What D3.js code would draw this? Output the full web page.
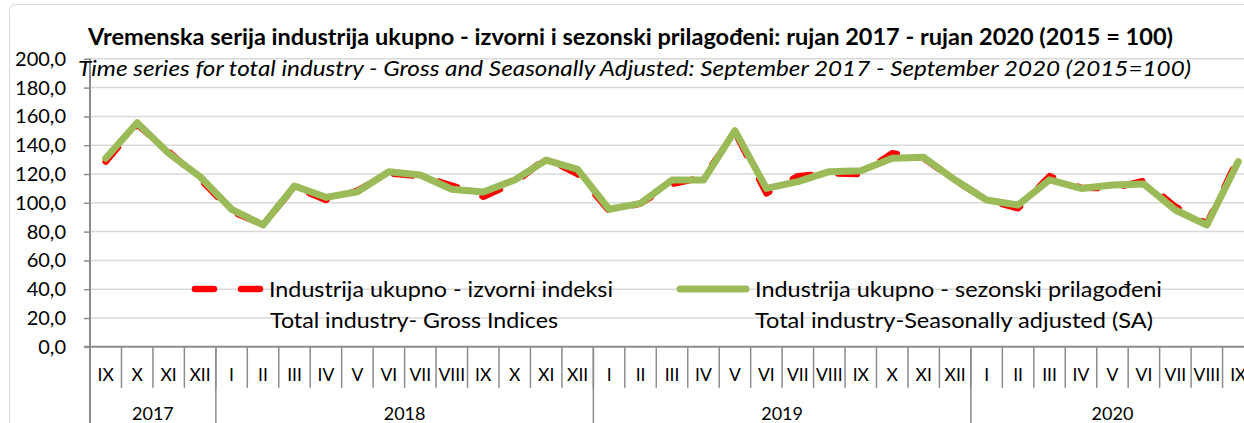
<!DOCTYPE html>
<html>
<head>
<meta charset="utf-8">
<script src="https://cdn.jsdelivr.net/npm/d3@7"></script>
<style>
  body { margin: 0; background: #fff; }
  svg { display: block; font-family: Lato, "Open Sans", sans-serif; }
</style>
</head>
<body>
<svg width="1244" height="423"></svg>
<script>
// months IX 2017 .. IX 2020
var months = ["IX","X","XI","XII","I","II","III","IV","V","VI","VII","VIII","IX","X","XI","XII",
              "I","II","III","IV","V","VI","VII","VIII","IX","X","XI","XII",
              "I","II","III","IV","V","VI","VII","VIII","IX"];
var years = ["2017","2018","2019","2020"];
var yearCounts = [4, 12, 12, 9];
// izvorni indeksi (gross)
var gross = [128.6,154.5,135.5,116.5,94.0,85.0,111.0,102.0,108.5,120.5,118.5,112.0,104.2,114.0,131.0,120.0,
             94.5,99.5,113.0,117.7,149.0,106.6,118.5,120.5,120.0,134.4,131.0,115.5,
             102.0,96.2,118.5,110.5,110.0,115.3,97.3,85.5,130.9];
// sezonski prilagodeni (SA)
var sa = [130.9,155.6,134.4,118.1,95.5,84.6,111.7,103.8,107.7,121.6,119.3,109.4,107.5,115.8,129.7,123.2,
          95.5,99.6,115.8,115.8,150.1,110.0,114.7,121.6,122.2,130.9,131.6,115.8,
          101.9,98.5,116.0,110.0,112.4,113.0,95.0,84.6,128.6];
var yTicks = [0,20,40,60,80,100,120,140,160,180,200];

var svg = d3.select("svg");
var left = 90, bw = 31.46;
var bottom = 346.8;

var x = d3.scaleBand()
    .domain(d3.range(months.length))
    .range([left, left + bw * months.length])
    .padding(0);
var y = d3.scaleLinear().domain([0, 200]).range([bottom, 58.8]);
var fmt = function(v) { return d3.format(".1f")(v).replace(".", ","); };

// chart border
svg.append("rect")
  .attr("x", 9.5).attr("y", 4.5)
  .attr("width", 1400).attr("height", 600)
  .attr("rx", 6)
  .attr("fill", "none")
  .attr("stroke", "#d9d9d9");

// gridlines
svg.append("g").selectAll("line")
  .data(yTicks.filter(function(d){ return d > 0; }))
  .enter().append("line")
  .attr("x1", left).attr("x2", 1260)
  .attr("y1", function(d){ return y(d); })
  .attr("y2", function(d){ return y(d); })
  .attr("stroke", "#d9d9d9")
  .attr("stroke-width", 1.5);

// y axis
var yAxis = svg.append("g")
  .attr("transform", "translate(" + left + ",0)")
  .call(d3.axisLeft(y).tickValues(yTicks).tickFormat(fmt).tickSize(6).tickPadding(18));
yAxis.select(".domain").remove();
yAxis.selectAll("line").attr("stroke", "#8c8c8c").attr("stroke-width", 1.5);
yAxis.selectAll("text")
  .attr("font-size", "20px")
  .attr("fill", "#000")
  .attr("font-family", "Lato, sans-serif");

// axis lines
svg.append("line")
  .attr("x1", left).attr("x2", left)
  .attr("y1", y(200)).attr("y2", 423)
  .attr("stroke", "#8c8c8c").attr("stroke-width", 2);
svg.append("line")
  .attr("x1", left - 6).attr("x2", 1260)
  .attr("y1", bottom).attr("y2", bottom)
  .attr("stroke", "#8c8c8c").attr("stroke-width", 2);

// month separators
svg.append("g").selectAll("line")
  .data(d3.range(1, months.length + 1))
  .enter().append("line")
  .attr("x1", function(i){ return left + i * bw; })
  .attr("x2", function(i){ return left + i * bw; })
  .attr("y1", bottom)
  .attr("y2", bottom + 41)
  .attr("stroke", "#8c8c8c").attr("stroke-width", 1.5);

// month labels
svg.append("g").selectAll("text")
  .data(months)
  .enter().append("text")
  .attr("x", function(d, i){ return x(i) + x.bandwidth() / 2; })
  .attr("y", 381)
  .attr("text-anchor", "middle")
  .attr("font-size", "17.5px")
  .attr("fill", "#000")
  .text(function(d){ return d; });

// year groups
var starts = [0];
yearCounts.forEach(function(c, i){ starts.push(starts[i] + c); });
svg.append("g").selectAll("line")
  .data(starts.slice(1, years.length))
  .enter().append("line")
  .attr("x1", function(s){ return left + s * bw; })
  .attr("x2", function(s){ return left + s * bw; })
  .attr("y1", bottom).attr("y2", 423)
  .attr("stroke", "#8c8c8c").attr("stroke-width", 1.5);
svg.append("g").selectAll("text")
  .data(years)
  .enter().append("text")
  .attr("x", function(d, i){ return left + (starts[i] + yearCounts[i] / 2) * bw; })
  .attr("y", 420)
  .attr("text-anchor", "middle")
  .attr("font-size", "18px")
  .attr("fill", "#000")
  .text(function(d){ return d; });

// lines
var line = d3.line()
  .x(function(d, i){ return x(i) + x.bandwidth() / 2; })
  .y(function(d){ return y(d); });

svg.append("path")
  .datum(gross)
  .attr("d", line)
  .attr("fill", "none")
  .attr("stroke", "#ff0000")
  .attr("stroke-width", 6.5)
  .attr("stroke-dasharray", "19,27")
  .attr("stroke-linecap", "round")
  .attr("stroke-linejoin", "round");

svg.append("path")
  .datum(sa)
  .attr("d", line)
  .attr("fill", "none")
  .attr("stroke", "#9bbb59")
  .attr("stroke-width", 7)
  .attr("stroke-linecap", "round")
  .attr("stroke-linejoin", "round");

// fitted text helper
function label(txt, xx, yy, size, width, opts) {
  opts = opts || {};
  var t = svg.append("text")
    .attr("x", xx).attr("y", yy)
    .attr("font-size", size + "px")
    .attr("fill", "#000")
    .text(txt);
  if (opts.bold) t.attr("font-weight", "bold");
  if (opts.italic) t.attr("font-style", "italic");
  if (width) t.attr("textLength", width).attr("lengthAdjust", "spacingAndGlyphs");
  return t;
}

// titles
label("Vremenska serija industrija ukupno - izvorni i sezonski prilagođeni: rujan 2017 - rujan 2020 (2015 = 100)",
      88, 45, 22, 1085, {bold: true});
label("Time series for total industry - Gross and Seasonally Adjusted: September 2017 - September 2020 (2015=100)",
      78, 76, 21, 1113, {italic: true});

// legend
svg.append("line")
  .attr("x1", 195).attr("x2", 260)
  .attr("y1", 289).attr("y2", 289)
  .attr("stroke", "#ff0000")
  .attr("stroke-width", 6.5)
  .attr("stroke-dasharray", "19,27")
  .attr("stroke-linecap", "round");
label("Industrija ukupno - izvorni indeksi", 269, 297, 21, 344);
label("Total industry- Gross Indices", 270, 328, 21, 288);

svg.append("line")
  .attr("x1", 680).attr("x2", 746)
  .attr("y1", 289).attr("y2", 289)
  .attr("stroke", "#9bbb59")
  .attr("stroke-width", 7)
  .attr("stroke-linecap", "round");
label("Industrija ukupno - sezonski prilagođeni", 755, 297, 21, 407);
label("Total industry-Seasonally adjusted (SA)", 755, 328, 21, 398);
</script>
</body>
</html>
